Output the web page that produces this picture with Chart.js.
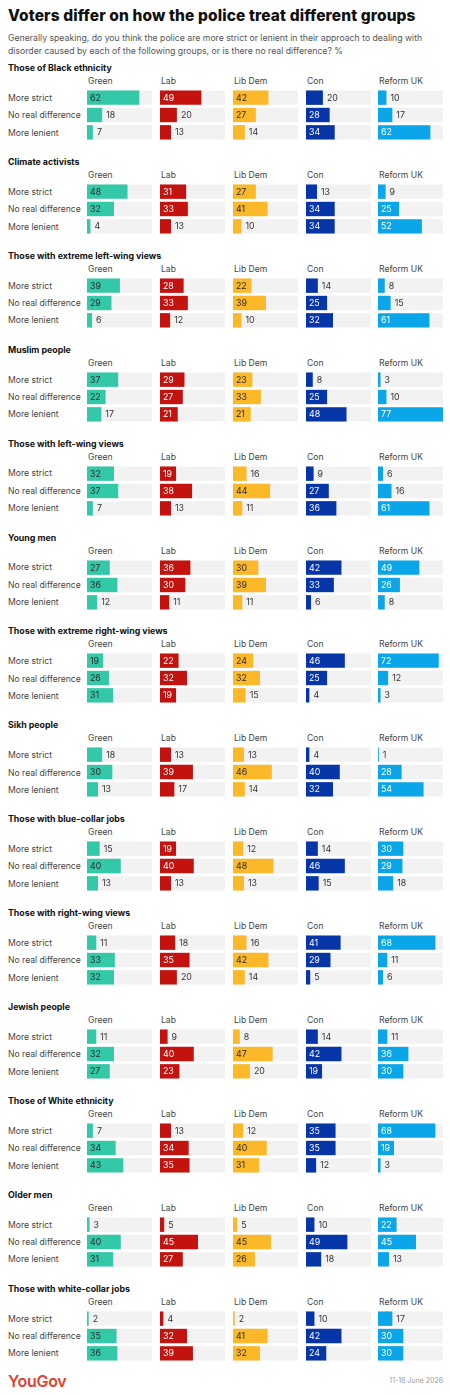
<!DOCTYPE html>
<html lang="en">
<head>
  <meta charset="UTF-8">
  <script src="https://cdn.jsdelivr.net/npm/chart.js"></script>
  <title>Voters differ on how the police treat different groups</title>
  <style>
    body { margin: 0; background: #fff; font-family: Inter, "Noto Sans", sans-serif; color: #333; }
    .page { position: relative; width: 450px; height: 1395px; overflow: hidden; }
    .abs { position: absolute; white-space: nowrap; }
    h1 { position: absolute; left: 8px; top: 6px; margin: 0; font-size: 15.5px; font-weight: 800; color: #111; letter-spacing: 0.12px; }
    .sub { left: 8px; top: 32px; font-size: 8.7px; line-height: 13px; color: #555; }
    .gtitle { font-size: 8.8px; font-weight: 700; color: #111; line-height: 12px; }
    .head, .rowlab { font-size: 8.6px; color: #444; line-height: 12px; }
    .logo { left: 8px; top: 1371px; font-size: 16px; font-weight: 600; color: #e4422e; letter-spacing: -0.3px; }
    .date { right: 7px; top: 1376px; font-size: 7px; color: #999; }
  </style>
</head>
<body>
<div class="page" id="page">
  <h1>Voters differ on how the police treat different groups</h1>
  <div class="abs sub">Generally speaking, do you think the police are more strict or lenient in their approach to dealing with<br>disorder caused by each of the following groups, or is there no real difference? %</div>
  <div class="abs logo">YouGov</div>
  <div class="abs date">11-18 June 2026</div>
</div>

<script>
var groups = ['Those of Black ethnicity', 'Climate activists', 'Those with extreme left-wing views',
  'Muslim people', 'Those with left-wing views', 'Young men', 'Those with extreme right-wing views',
  'Sikh people', 'Those with blue-collar jobs', 'Those with right-wing views', 'Jewish people',
  'Those of White ethnicity', 'Older men', 'Those with white-collar jobs']
var parties = ['Green', 'Lab', 'Lib Dem', 'Con', 'Reform UK']
var answers = ['More strict', 'No real difference', 'More lenient']

// one entry per group: [more strict, no real difference, more lenient]
var green = [[62,18,7],[48,32,4],[39,29,6],[37,22,17],[32,37,7],[27,36,12],[19,26,31],
  [18,30,13],[15,40,13],[11,33,32],[11,32,27],[7,34,43],[3,40,31],[2,35,36]]
var lab = [[49,20,13],[31,33,13],[28,33,12],[29,27,21],[19,38,13],[36,30,11],[22,32,19],
  [13,39,17],[19,40,13],[18,35,20],[9,40,23],[13,34,35],[5,45,27],[4,32,39]]
var libDem = [[42,27,14],[27,41,10],[22,39,10],[23,33,21],[16,44,11],[30,39,11],[24,32,15],
  [13,46,14],[12,48,13],[16,42,14],[8,47,20],[12,40,31],[5,45,26],[2,41,32]]
var con = [[20,28,34],[13,34,34],[14,25,32],[8,25,48],[9,27,36],[42,33,6],[46,25,4],
  [4,40,32],[14,46,15],[41,29,5],[14,42,19],[35,35,12],[10,49,18],[10,42,24]]
var reform = [[10,17,62],[9,25,52],[8,15,61],[3,10,77],[6,16,61],[49,26,8],[72,12,3],
  [1,28,54],[30,29,18],[68,11,6],[11,36,30],[68,19,3],[22,45,13],[17,30,30]]

var partyData = [green, lab, libDem, con, reform]
var barColors = ['#33c9a8', '#c4120f', '#fbb828', '#0535a6', '#0ba6ea']
var insideText = ['#2a2a2a', '#fff', '#2a2a2a', '#fff', '#fff']
var scaleMax = 77

var colX = [87, 160, 233, 306, 378]
var colW = 65
var page = document.getElementById('page')

// value labels: inside the bar when they fit, else just past its end
var valueLabels = {
  id: 'valueLabels',
  afterDatasetsDraw(chart) {
    var ctx = chart.ctx
    var meta = chart.getDatasetMeta(0)
    var idx = chart.options.plugins.valueLabels.party
    ctx.save()
    ctx.font = '8.8px Inter, sans-serif'
    ctx.textBaseline = 'middle'
    meta.data.forEach(function (bar, i) {
      var txt = String(chart.data.datasets[0].data[i])
      var w = ctx.measureText(txt).width
      var len = bar.x - bar.base
      if (w + 7 <= len) {
        ctx.fillStyle = insideText[idx]
        ctx.fillText(txt, bar.base + 3, bar.y + 0.5)
      } else {
        ctx.fillStyle = '#333'
        ctx.fillText(txt, bar.x + 4, bar.y + 0.5)
      }
    })
    ctx.restore()
  }
}

function addText(cls, text, left, top) {
  var d = document.createElement('div')
  d.className = 'abs ' + cls
  d.textContent = text
  d.style.left = left + 'px'
  d.style.top = top + 'px'
  page.appendChild(d)
}

groups.forEach(function (g, gi) {
  var y0 = 68 + gi * 93.9
  addText('gtitle', g, 8, y0 - 6)
  parties.forEach(function (p, pi) { addText('head', p, colX[pi] + 1, y0 + 7) })
  answers.forEach(function (a, ai) { addText('rowlab', a, 8, y0 + 23.8 + ai * 17.4) })

  parties.forEach(function (p, pi) {
    var cv = document.createElement('canvas')
    cv.width = colW
    cv.height = 52
    cv.style.position = 'absolute'
    cv.style.left = colX[pi] + 'px'
    cv.style.top = Math.round(y0 + 21) + 'px'
    page.appendChild(cv)

    new Chart(cv, {
      type: 'bar',
      data: {
        labels: answers,
        datasets: [{
          data: partyData[pi][gi],
          backgroundColor: barColors[pi],
          grouped: false,
          barPercentage: 0.83,
          categoryPercentage: 1
        }, {
          data: answers.map(function () { return scaleMax }),
          backgroundColor: '#f2f2f2',
          grouped: false,
          barPercentage: 0.83,
          categoryPercentage: 1
        }]
      },
      options: {
        indexAxis: 'y',
        responsive: false,
        animation: false,
        devicePixelRatio: 1,
        layout: { padding: 0 },
        scales: {
          x: { display: false, min: 0, max: scaleMax },
          y: { display: false }
        },
        plugins: {
          legend: { display: false },
          tooltip: { enabled: false },
          valueLabels: { party: pi }
        }
      },
      plugins: [valueLabels]
    })
  })
})
</script>
</body>
</html>
